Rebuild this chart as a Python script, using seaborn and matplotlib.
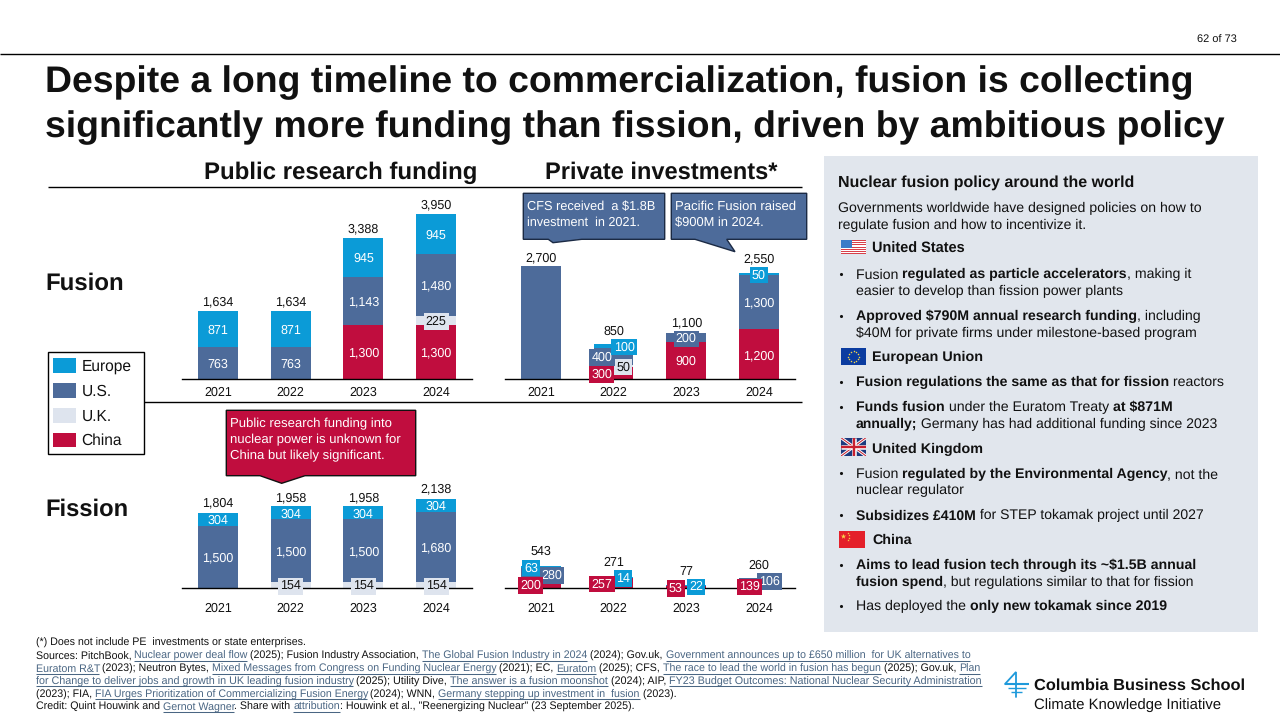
import math

import matplotlib
matplotlib.use("Agg")
import matplotlib.pyplot as plt
import seaborn as sns
from matplotlib.font_manager import FontProperties
from matplotlib.patches import Patch, Polygon, Rectangle

# Funding values in $M by year and source
years = ["2021", "2022", "2023", "2024"]

fusion_public_china = [0, 0, 1300, 1300]
fusion_public_uk = [0, 0, 0, 225]
fusion_public_us = [763, 763, 1143, 1480]
fusion_public_europe = [871, 871, 945, 945]
fusion_public_totals = [1634, 1634, 3388, 3950]

fusion_private_china = [0, 300, 900, 1200]
fusion_private_uk = [0, 50, 0, 0]
fusion_private_us = [2700, 400, 200, 1300]
fusion_private_europe = [0, 100, 0, 50]
fusion_private_totals = [2700, 850, 1100, 2550]

fission_public_china = [0, 0, 0, 0]
fission_public_uk = [0, 154, 154, 154]
fission_public_us = [1500, 1500, 1500, 1680]
fission_public_europe = [304, 304, 304, 304]
fission_public_totals = [1804, 1958, 1958, 2138]

fission_private_china = [200, 257, 53, 139]
fission_private_uk = [0, 0, 0, 0]
fission_private_us = [280, 0, 0, 106]
fission_private_europe = [63, 14, 22, 0]
fission_private_totals = [543, 271, 77, 260]

WIDTH, HEIGHT = 1280, 720
PX_PER_UNIT = 0.0418
BLACK = "#111111"
COLORS = {"Europe": "#0B9BD7", "U.S.": "#4D6B9A", "U.K.": "#DEE4EE", "China": "#C00D3E"}
LINK = "#4A6683"
PANEL = "#E1E6ED"
LABEL_PT = 9.0

sns.set_theme(style="white")
plt.rcParams["font.family"] = ["Liberation Sans", "DejaVu Sans"]
plt.rcParams["text.hinting"] = "no_hinting"

fig = plt.figure(figsize=(WIDTH / 100, HEIGHT / 100), dpi=100, facecolor="white")
page = fig.add_axes([0, 0, 1, 1], zorder=0)
page.set_xlim(0, WIDTH)
page.set_ylim(HEIGHT, 0)
page.axis("off")
renderer = fig.canvas.get_renderer()


def text_width(string, prop):
    # Dots on either side keep the advance of outer spaces in the measurement
    width = renderer.get_text_width_height_descent("." + string + ".", prop, False)[0]
    return width - renderer.get_text_width_height_descent("..", prop, False)[0]


def props(style, px):
    return FontProperties(family="Liberation Sans", weight="bold" if style == "b" else "normal", size=px * 0.72)


def line(x, y, pieces, px, right=None, color=BLACK):
    """Write one line of mixed regular, bold and link runs, optionally fitted to a right edge."""
    if isinstance(pieces, str):
        pieces = [(pieces, "r")]
    if right is not None:
        natural = sum(text_width(t, props(s, px)) for t, s in pieces)
        px = px * (right - x) / natural
    baseline = y + 0.36 * px
    cursor = x
    for string, style in pieces:
        prop = props(style, px)
        page.text(cursor, baseline, string, fontproperties=prop, va="baseline", ha="left",
                  color=LINK if style == "l" else color)
        advance = text_width(string, prop)
        if style == "l":
            page.plot([cursor, cursor + advance], [baseline + 1.6] * 2, color=LINK, lw=0.75, solid_capstyle="butt")
        cursor += advance


def marked(string):
    # Text between double asterisks is set bold
    return [(part, "b" if i % 2 else "r") for i, part in enumerate(string.split("**")) if part]


def rule(x0, x1, y, lw=1.0):
    page.plot([x0, x1], [y, y], color="black", lw=lw, solid_capstyle="butt")


# Page furniture
rule(0, WIDTH, 54)
line(1197, 39, "62 of 73", 11, right=1237)
line(45, 79, [("Despite a long timeline to commercialization, fusion is collecting", "b")], 35, right=1192)
line(45, 124, [("significantly more funding than fission, driven by ambitious policy", "b")], 35, right=1223)
line(203.5, 170.7, [("Public research funding", "b")], 23, right=477)
line(545, 170.7, [("Private investments*", "b")], 23, right=778)
rule(48, 802, 187.3)
rule(144, 802, 402.3)
line(45, 280.7, [("Fusion", "b")], 24, right=123.5)
line(45, 507.7, [("Fission", "b")], 24, right=128)


def stacked_panel(left, baseline, top, china, uk, us, europe, totals, pad, gaps,
                  boxed=(), shifts=None, hidden=()):
    """Draw one stacked-bar panel whose zero line sits at pixel row `baseline`."""
    shifts = shifts or {}
    ax = fig.add_axes([left / WIDTH, 1 - baseline / HEIGHT, 290.7 / WIDTH, (baseline - top) / HEIGHT], zorder=2)
    ax.patch.set_alpha(0)
    stack = [("China", china), ("U.K.", uk), ("U.S.", us), ("Europe", europe)]
    bottoms = [0] * len(years)
    spans = {}
    for name, values in stack:
        sns.barplot(x=years, y=values, bottom=bottoms, color=COLORS[name], saturation=1,
                    width=0.55, linewidth=0, ax=ax)
        spans[name] = [(b, v) for b, v in zip(bottoms, values)]
        bottoms = [b + v for b, v in zip(bottoms, values)]
    ax.set_xlim(-0.5, 3.5)
    ax.set_ylim(0, (baseline - top) / PX_PER_UNIT)
    ax.set_yticks([])
    sns.despine(ax=ax, left=True)
    ax.spines["bottom"].set_color("black")
    ax.spines["bottom"].set_linewidth(1.0)
    ax.tick_params(axis="x", length=0, pad=pad, labelsize=LABEL_PT, labelcolor=BLACK)

    for name in ["U.K.", "U.S.", "Europe", "China"]:
        for i, (base, value) in enumerate(spans[name]):
            if value == 0 or (i, name) in hidden:
                continue
            has_box = (i, name) in boxed or (i, name) in shifts
            ax.annotate(f"{value:,}", xy=(i, base + value / 2), xytext=(shifts.get((i, name), 0), 0),
                        textcoords="offset pixels", ha="center", va="center_baseline", fontsize=LABEL_PT,
                        color=BLACK if name == "U.K." else "white", zorder=6,
                        bbox=dict(boxstyle="square,pad=0.17", fc=COLORS[name], ec="none") if has_box else None)
    for i, total in enumerate(totals):
        ax.annotate(f"{total:,}", xy=(i, bottoms[i]), xytext=(0, gaps[i]), textcoords="offset pixels",
                    ha="center", va="center_baseline", fontsize=LABEL_PT, color=BLACK, zorder=7)
    return ax


stacked_panel(181.7, 379.3, 190, fusion_public_china, fusion_public_uk, fusion_public_us,
              fusion_public_europe, fusion_public_totals, pad=5.4, gaps=[10.5, 10.5, 10.5, 11],
              boxed={(3, "U.K.")})
stacked_panel(504.5, 379.3, 190, fusion_private_china, fusion_private_uk, fusion_private_us,
              fusion_private_europe, fusion_private_totals, pad=5.4, gaps=[9.5, 14, 12, 15],
              boxed={(2, "U.S."), (3, "Europe")},
              shifts={(1, "China"): -12, (1, "U.K."): 9.5, (1, "U.S."): -11.5, (1, "Europe"): 10.5},
              hidden={(0, "U.S.")})
stacked_panel(181.7, 588.3, 480, fission_public_china, fission_public_uk, fission_public_us,
              fission_public_europe, fission_public_totals, pad=10, gaps=[11, 10, 10, 11],
              boxed={(1, "U.K."), (2, "U.K."), (3, "U.K.")})
stacked_panel(504.5, 588.3, 480, fission_private_china, fission_private_uk, fission_private_us,
              fission_private_europe, fission_private_totals, pad=10, gaps=[15, 16, 15, 14],
              shifts={(0, "China"): -10, (0, "U.S."): 11, (0, "Europe"): -10,
                      (1, "China"): -11.5, (1, "Europe"): 9.5,
                      (2, "China"): -10.3, (2, "Europe"): 10,
                      (3, "China"): -9.7, (3, "U.S."): 11})

# Series key shared by all four panels
legend_px = 15.5
handles = [Patch(facecolor=COLORS[k], edgecolor="none", label=k) for k in ["Europe", "U.S.", "U.K.", "China"]]
legend = fig.legend(handles=handles, loc="upper left", mode="expand", ncols=1,
                    bbox_to_anchor=(47.5 / WIDTH, 1 - 454.3 / HEIGHT, 96 / WIDTH, 102.3 / HEIGHT),
                    bbox_transform=fig.transFigure, borderaxespad=0, borderpad=0.38,
                    fontsize=legend_px * 0.72, frameon=True, fancybox=False, edgecolor="black",
                    framealpha=1, handlelength=1.48, handleheight=1.1, handletextpad=0.33,
                    labelspacing=0.57, labelcolor=BLACK)
legend.get_frame().set_linewidth(1.0)
legend.set_zorder(5)


def callout(x0, x1, y0, y1, tail, fill, edge, lines, tx, ty0, step, right):
    corners = [(x0, y0), (x1, y0), (x1, y1)] + tail + [(x0, y1)]
    page.add_patch(Polygon(corners, closed=True, facecolor=fill, edgecolor=edge, lw=1.0, zorder=3))
    for k, string in enumerate(lines):
        px = 12.6
        prop = props("r", px)
        width = text_width(string, prop)
        scale = (right[k] - tx) / width
        page.text(tx, ty0 + k * step + 0.36 * px * scale, string, color="white", va="baseline", ha="left",
                  fontproperties=props("r", px * scale), zorder=4)


callout(523.3, 664.7, 193.3, 239.3, [(581.7, 239.3), (553, 242.7), (548.3, 239.3)], COLORS["U.S."], "#1B2A44",
        ["CFS received  a $1.8B", "investment  in 2021."], 527, 205, 16.7, [656, 640])
callout(671.3, 806.7, 193.3, 239.3, [(726.7, 239.3), (735, 251.7), (695, 239.3)], COLORS["U.S."], "#1B2A44",
        ["Pacific Fusion raised", "$900M in 2024."], 675, 205, 16.7, [796, 764])
callout(226.3, 415.7, 410.3, 475.7, [(305, 475.7), (281.7, 483.3), (260, 475.7)], COLORS["China"], "#111111",
        ["Public research funding into", "nuclear power is unknown for", "China but likely significant."],
        230, 422.3, 16, [393, 401, 385])

# Policy summary panel
page.add_patch(Rectangle((824, 156), 434, 476, facecolor=PANEL, edgecolor="none", zorder=0))


def flag_us(x, y, w, h):
    page.add_patch(Rectangle((x, y), w, h, fc="white", ec="none", zorder=1))
    for s in range(0, 7):
        page.add_patch(Rectangle((x, y + s * h * 2 / 13), w, h / 13, fc="#D8404A", ec="none", zorder=1))
    page.add_patch(Rectangle((x, y), w * 0.42, h * 7 / 13, fc="#3A7CC8", ec="none", zorder=1))


def flag_eu(x, y, w, h):
    page.add_patch(Rectangle((x, y), w, h, fc="#0B3CA0", ec="none", zorder=1))
    angles = [k * math.pi / 6 for k in range(12)]
    page.scatter([x + w / 2 + 0.3 * h * math.cos(a) for a in angles],
                 [y + h / 2 + 0.3 * h * math.sin(a) for a in angles],
                 s=1.2, color="#F2D64B", linewidths=0, zorder=2)


def flag_uk(x, y, w, h):
    box = Rectangle((x, y), w, h, fc="#1D3A7E", ec="none", zorder=1)
    page.add_patch(box)
    strokes = [([x, x + w], [y, y + h], "white", 3), ([x, x + w], [y + h, y], "white", 3),
               ([x, x + w], [y, y + h], "#C8202F", 1), ([x, x + w], [y + h, y], "#C8202F", 1),
               ([x + w / 2] * 2, [y, y + h], "white", 4.5), ([x, x + w], [y + h / 2] * 2, "white", 4.5),
               ([x + w / 2] * 2, [y, y + h], "#C8202F", 2.4), ([x, x + w], [y + h / 2] * 2, "#C8202F", 2.4)]
    for xs, ys, col, width in strokes:
        stroke, = page.plot(xs, ys, color=col, lw=width * 0.72, solid_capstyle="butt", zorder=1.5)
        stroke.set_clip_path(box)


def flag_cn(x, y, w, h):
    page.add_patch(Rectangle((x, y), w, h, fc="#E4202A", ec="none", zorder=1))
    page.scatter([x + 0.17 * w], [y + 0.3 * h], marker="*", s=16, color="#F7D54A", linewidths=0, zorder=2)
    page.scatter([x + 0.33 * w, x + 0.38 * w, x + 0.38 * w, x + 0.33 * w],
                 [y + 0.12 * h, y + 0.24 * h, y + 0.4 * h, y + 0.52 * h],
                 marker="*", s=3, color="#F7D54A", linewidths=0, zorder=2)


flag_us(841, 240, 25, 14.3)
flag_eu(841, 348, 25, 17)
flag_uk(841, 437.7, 25, 18.3)
flag_cn(839, 531, 26, 16.7)

PANEL_PX = 13.4
line(838, 181, [("Nuclear fusion policy around the world", "b")], 15, right=1134.7)
line(838, 207.3, "Governments worldwide have designed policies on how to", PANEL_PX, right=1200)
line(838, 224, "regulate fusion and how to incentivize it.", PANEL_PX, right=1086.7)
for head, row, end in [("United States", 248, 964.7), ("European Union", 356.3, 983),
                       ("United Kingdom", 448.3, 982.7), ("China", 539, 911.7)]:
    line(872, row, [(head, "b")], PANEL_PX, right=end)

bullets = [
    (273.3, "Fusion **regulated as particle accelerators**, making it", 1190, True),
    (290, "easier to develop than fission power plants", 1121.7, False),
    (315.3, "**Approved $790M annual research funding**, including", 1199, True),
    (332.3, "$40M for private firms under milestone-based program", 1195, False),
    (381, "**Fusion regulations the same as that for fission** reactors", 1222.7, True),
    (406, "**Funds fusion** under the Euratom Treaty **at $871M**", 1172, True),
    (423.3, "**annually;** Germany has had additional funding since 2023", 1218.7, False),
    (472.7, "Fusion **regulated by the Environmental Agency**, not the", 1217.7, True),
    (489.3, "nuclear regulator", 962.7, False),
    (514.3, "**Subsidizes £410M** for STEP tokamak project until 2027", 1204.3, True),
    (564.3, "**Aims to lead fusion tech through its ~$1.5B annual**", 1195.7, True),
    (580.7, "**fusion spend**, but regulations similar to that for fission", 1193.3, False),
    (605.3, "Has deployed the **only new tokamak since 2019**", 1166.7, True),
]
for row, string, end, has_dot in bullets:
    if has_dot:
        page.scatter([841], [row + 0.5], s=5, color=BLACK, linewidths=0, zorder=2)
    line(856, row, marked(string), PANEL_PX, right=end)

# Source notes
NOTE_PX = 10.6
line(35.7, 642.3, "(*) Does not include PE  investments or state enterprises.", NOTE_PX, right=305.7)
line(35.7, 655.3, [("Sources: PitchBook, ", "r"), ("Nuclear power deal flow", "l"),
                   (" (2025); Fusion Industry Association, ", "r"), ("The Global Fusion Industry in 2024", "l"),
                   (" (2024); Gov.uk, ", "r"),
                   ("Government announces up to £650 million  for UK alternatives to", "l")], NOTE_PX, right=978)
line(35.7, 668.3, [("Euratom R&T", "l"), (" (2023); Neutron Bytes, ", "r"),
                   ("Mixed Messages from Congress on Funding Nuclear Energy", "l"), (" (2021); EC, ", "r"),
                   ("Euratom", "l"), (" (2025); CFS, ", "r"),
                   ("The race to lead the world in fusion has begun", "l"), (" (2025); Gov.uk, ", "r"),
                   ("Plan", "l")], NOTE_PX, right=988)
line(35.7, 681, [("for Change to deliver jobs and growth in UK leading fusion industry", "l"),
                 (" (2025); Utility Dive, ", "r"), ("The answer is a fusion moonshot", "l"),
                 (" (2024); AIP, ", "r"),
                 ("FY23 Budget Outcomes: National Nuclear Security Administration", "l")], NOTE_PX, right=982)
line(35.7, 694, [("(2023); FIA, ", "r"), ("FIA Urges Prioritization of Commercializing Fusion Energy", "l"),
                 (" (2024); WNN, ", "r"), ("Germany stepping up investment in  fusion", "l"),
                 (" (2023).", "r")], NOTE_PX, right=681)
line(35.7, 706.3, [("Credit: Quint Houwink and ", "r"), ("Gernot Wagner", "l"), (". Share with ", "r"),
                   ("attribution", "l"), (': Houwink et al., "Reenergizing Nuclear" (23 September 2025).', "r")],
     NOTE_PX, right=640)

# School wordmark
ICON = "#1F9ADB"
page.plot([1005, 1016, 1016], [684, 672, 697], color=ICON, lw=1.3, solid_joinstyle="miter")
for row, x0, x1, weight in [(684, 1005, 1029, 1.5), (688, 1008, 1026, 1.0), (692, 1011, 1022, 1.0)]:
    page.plot([x0, x1], [row, row], color=ICON, lw=weight, solid_capstyle="butt")
line(1033.5, 684.3, [("Columbia Business School", "b")], 18, right=1245)
line(1034.5, 704, "Climate Knowledge Initiative", 16, right=1221)

fig.savefig("out.png", dpi=100, facecolor="white")
